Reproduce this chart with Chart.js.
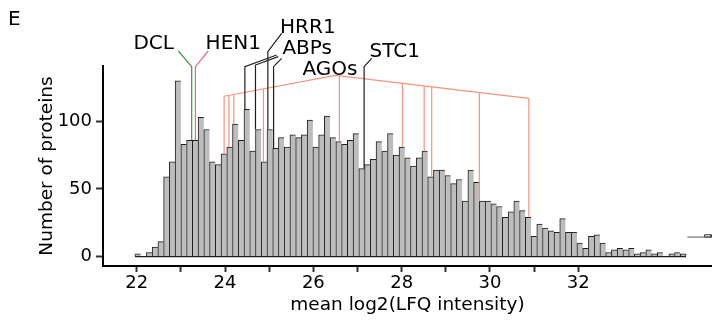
<!DOCTYPE html>
<html><head><meta charset="utf-8">
<script src="https://cdn.jsdelivr.net/npm/chart.js@4.4.1/dist/chart.umd.min.js"></script>
<style>html,body{margin:0;padding:0;background:#fff;}#wrap{width:712px;height:322px;}</style>
</head><body><div id="wrap"><canvas id="c" width="712" height="322"></canvas></div>
<script>
// ---------------- data ----------------
const binStart = 21.96;      // left edge of first histogram bin (log2 LFQ)
const binWidth = 0.13;       // histogram bin width
const counts = [2,0,3,7,11,59,70,130,83,86,
  86,103,94,70,68,76,81,98,86,109,
  78,94,70,94,80,88,81,90,88,90,
  101,81,90,104,88,85,83,86,91,65,
  68,72,85,78,91,75,81,73,67,73,
  78,59,64,64,60,54,57,41,64,55,
  41,41,39,37,29,33,41,34,29,15,
  24,21,19,18,28,18,18,10,6,15,
  16,10,3,5,6,5,6,2,3,5,
  2,3,0,2,3,2];
const xTickValues = [22,23,24,25,26,27,28,29,30,31,32];
const xTickLabels = ['22','','24','','26','','28','','30','','32'];
const yTickValues = [0,50,100];
// protein mean log2(LFQ) values
const dclX  = [23.245];
const hen1X = [23.33];
const hrr1X = [24.97];
const abpX  = [24.45, 24.69, 25.10];
const agoX  = [23.98, 24.09, 24.20, 24.87, 26.59, 28.02, 28.51, 28.68, 29.76, 30.88];
const stc1X = [27.15];
// small clipped mark at the right edge of the panel
const edgeMarkX = [34.47, 35.03];
const edgeMarkY = [14.4, 14.4];
const edgeBoxX = [34.86, 34.86, 35.01, 35.01, 34.86];
const edgeBoxY = [14.4, 16.1, 16.1, 14.4, 14.4];

// ---------------- layout / style ----------------
const GREEN = '#3a9e3a', PINK = '#f0609a', SALMON = '#f9937c', DARK = '#1e1e1e';
const FONT = 'DejaVu Sans';
const callouts = [
  {text:'DCL',  color:GREEN, xs:dclX,  label:[22.385,153.4], tips:[[22.942,152.1]], elbow:[140.5]},
  {text:'HEN1', color:PINK,  xs:hen1X, label:[24.187,153.4], tips:[[23.621,152.1]], elbow:[140.5]},
  {text:'HRR1', color:DARK,  xs:hrr1X, label:[25.876,165.2], tips:[[25.283,165.2]], elbow:[151.6]},
  {text:'ABPs', color:DARK,  xs:abpX,  label:[25.861,149.7], tips:[[25.17,149.1],[25.206,147.9],[25.283,146.7]], elbow:[140.5,141.7,140.5]},
  {text:'STC1', color:DARK,  xs:stc1X, label:[27.842,147.4], tips:[[27.322,146.7]], elbow:[140.5]},
];
const agoLabel = {text:'AGOs', x:26.377, y:134.6};
const agoFan = [[agoX[0],118.6],[26.497,134.0],[agoX[agoX.length-1],117.1]];

function barTop(x){ return counts[Math.floor((x - binStart)/binWidth)]; }
function fanY(x){
  for (let i=0;i<agoFan.length-1;i++){
    const a=agoFan[i], b=agoFan[i+1];
    if (x>=a[0] && x<=b[0]) return a[1] + (b[1]-a[1])*(x-a[0])/(b[0]-a[0]);
  }
  return agoFan[agoFan.length-1][1];
}
const lineBase = {type:'line', pointRadius:0, borderWidth:1.2, fill:false, tension:0, clip:false, order:1};
const datasets = [];
datasets.push({
  type:'bar', label:'proteins', order:2,
  data: counts.map((c,i)=>({x: binStart + binWidth*(i+0.5), y:c})),
  backgroundColor:'#bdbdbd', borderColor:DARK, borderSkipped:false,
  borderWidth: ctx => ({top:1, left:1, bottom:0, right: ctx.dataIndex===counts.length-1 ? 1 : 0}),
  barPercentage:1, categoryPercentage:1
});
datasets.push(Object.assign({}, lineBase, {borderColor:DARK, borderWidth:1.2,
  data:[{x:binStart,y:0},{x:binStart+binWidth*counts.length,y:0}]}));
callouts.forEach(c => {
  c.xs.forEach((x,i) => {
    datasets.push(Object.assign({}, lineBase, {borderColor:c.color,
      data:[{x:c.tips[i][0],y:c.tips[i][1]},{x:x,y:c.elbow[i]},{x:x,y:barTop(x)}]}));
  });
});
datasets.push(Object.assign({}, lineBase, {borderColor:SALMON, data: agoFan.map(p=>({x:p[0],y:p[1]}))}));
agoX.forEach(x => {
  datasets.push(Object.assign({}, lineBase, {borderColor:SALMON,
    data:[{x:x,y:fanY(x)},{x:x,y:barTop(x)}]}));
});
datasets.push(Object.assign({}, lineBase, {borderColor:'#555', borderWidth:1,
  data: edgeMarkX.map((x,i)=>({x:x, y:edgeMarkY[i]}))}));
datasets.push(Object.assign({}, lineBase, {borderColor:'#333', borderWidth:1, fill:true, backgroundColor:'#bdbdbd',
  data: edgeBoxX.map((x,i)=>({x:x, y:edgeBoxY[i]}))}));

const labelPlugin = {
  id:'labels',
  afterDatasetsDraw(chart){
    const {ctx, scales:{x, y}} = chart;
    ctx.save();
    ctx.fillStyle = '#000';
    ctx.font = '20px "' + FONT + '"';
    ctx.textAlign = 'center'; ctx.textBaseline = 'alphabetic';
    callouts.forEach(c => ctx.fillText(c.text, x.getPixelForValue(c.label[0]), y.getPixelForValue(c.label[1])));
    ctx.fillText(agoLabel.text, x.getPixelForValue(agoLabel.x), y.getPixelForValue(agoLabel.y));
    ctx.textAlign = 'left';
    ctx.fillText('E', 8, 25);
    ctx.restore();
  }
};

Chart.defaults.font.family = FONT;
Chart.defaults.color = '#000';
new Chart(document.getElementById('c'), {
  type:'bar',
  data:{datasets},
  plugins:[labelPlugin],
  options:{
    responsive:false, animation:false, devicePixelRatio:1,
    layout:{padding:{top:66, right:0, left:0, bottom:0}},
    plugins:{legend:{display:false}, tooltip:{enabled:false}},
    scales:{
      x:{type:'linear', min:21.237, max:35.028, offset:false,
        afterBuildTicks(s){ s.ticks = xTickValues.map(v=>({value:v})); },
        ticks:{autoSkip:false, maxRotation:0, padding:1, font:{size:18},
          callback:(v,i)=>xTickLabels[i]},
        grid:{drawOnChartArea:false, drawTicks:true, tickLength:6, tickWidth:2, tickColor:'#333', offset:false},
        border:{display:true, color:'#000', width:2},
        title:{display:true, text:'mean log2(LFQ intensity)', font:{size:18.5}, padding:{top:0,bottom:6}},
        afterFit(s){ s.height = 56; }
      },
      y:{type:'linear', min:-7, max:141,
        afterBuildTicks(s){ s.ticks = yTickValues.map(v=>({value:v})); },
        ticks:{padding:4, font:{size:18}},
        grid:{drawOnChartArea:false, drawTicks:true, tickLength:7, tickWidth:2, tickColor:'#333'},
        border:{display:true, color:'#000', width:2},
        title:{display:true, text:'Number of proteins', font:{size:18.5}, padding:{top:36,bottom:0}},
        afterFit(s){ s.width = 103; }
      }
    }
  }
});
</script></body></html>
